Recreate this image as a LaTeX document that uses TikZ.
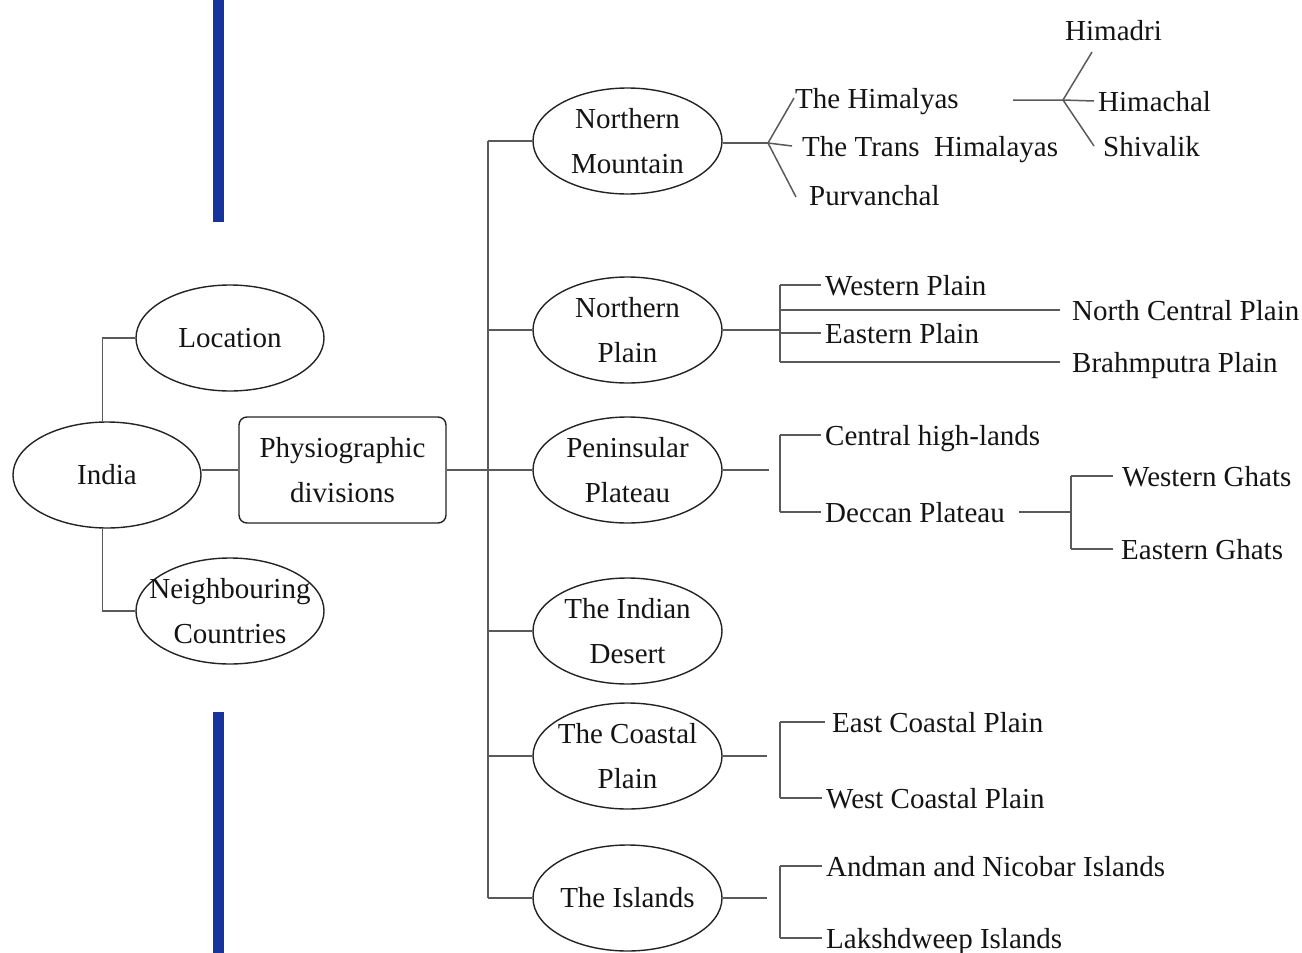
\documentclass[tikz,border=0pt]{standalone}
\usepackage{fontspec}
\setmainfont{Liberation Serif}
\usetikzlibrary{shapes.geometric}
\definecolor{bluebar}{RGB}{22,52,158}
\definecolor{linec}{RGB}{90,90,90}
\definecolor{edgec}{RGB}{35,35,35}
\definecolor{txt}{RGB}{20,20,20}
\begin{document}
\begin{tikzpicture}[x=1pt,y=-1pt,
  conn/.style={draw=linec, line width=1.5pt},
  ell/.style={ellipse, draw=edgec, line width=1.4pt, minimum width=189pt, minimum height=106pt, inner sep=0pt},
  lbl/.style={font=\fontsize{29}{45}\selectfont, align=center, text=txt, inner sep=0pt},
  item/.style={font=\fontsize{29}{35}\selectfont, text=txt, anchor=west, inner xsep=4pt, inner ysep=2pt, text height=20pt, text depth=0pt},
]
\useasboundingbox (0,0) rectangle (1302,953);
\fill[bluebar] (213,0) rectangle (224,222);
\fill[bluebar] (213,712) rectangle (224,953);

% left part
\node[ell,minimum width=188pt,label={[lbl]center:India}] (india) at (107,475) {};
\node[ell,minimum width=188pt,label={[lbl]center:Location}] (loc) at (230,338) {};
\node[ell,minimum width=188pt,label={[lbl]center:{Neighbouring\\Countries}}] (nbr) at (230,611) {};
\node[draw=edgec, rounded corners=8pt, line width=1.4pt, minimum width=207pt, minimum height=106pt, inner sep=0pt,
      label={[lbl]center:{Physiographic\\divisions}}] (phy) at (342.5,470) {};

\draw[conn] (india.95) |- (loc.west);
\draw[conn] (india.265) |- (nbr.west);
\draw[conn] (india.east |- phy.west) -- (phy.west);

% middle column
\coordinate (trk) at (488,470);
\node[ell,label={[lbl]center:{Northern\\Mountain}}] (nm) at (627.5,141) {};
\node[ell,label={[lbl]center:{Northern\\Plain}}] (np) at (627.5,330) {};
\node[ell,label={[lbl]center:{Peninsular\\Plateau}}] (pp) at (627.5,470) {};
\node[ell,label={[lbl]center:{The Indian\\Desert}}] (ind) at (627.5,631) {};
\node[ell,label={[lbl]center:{The Coastal\\Plain}}] (cp) at (627.5,756) {};
\node[ell,label={[lbl]center:The Islands}] (isl) at (627.5,898) {};

\draw[conn] (phy.east) -- (trk);
\draw[conn] (nm.west -| trk) -- (isl.west -| trk);
\foreach \n in {nm,np,pp,ind,cp,isl} \draw[conn] (\n.west) -- (\n.west -| trk);

% Northern Mountain
\coordinate (f1) at (768,143);
\node[item] (him) at (791,98) {The Himalyas};
\node[item] (trans) at (798,146) {The Trans\ \ Himalayas};
\node[item] (purv) at (805,195) {Purvanchal};
\draw[conn] (nm.east |- f1) -- (f1);
\draw[conn] (f1) -- ([xshift=3pt]him.west);
\draw[conn] (f1) -- ([xshift=-6pt]trans.west);
\draw[conn] (f1) -- ([xshift=-9pt,yshift=-2pt]purv.west);

\coordinate (s2) at (1013,100);
\coordinate (f2) at (1063,100);
\coordinate (u2) at (1092,52);
\node[item] (hmd) at (1061,30) {Himadri};
\node[item] (hmc) at (1094,101) {Himachal};
\node[item] (shv) at (1099,146) {Shivalik};
\draw[conn] (s2) -- (f2) -- (hmc.west);
\draw[conn] (f2) -- (u2);
\draw[conn] (f2) -- ([xshift=-5pt]shv.west);

% Northern Plain
\coordinate (b1t) at (780,285);
\coordinate (b1b) at (780,362);
\node[item] (wp) at (821,285) {Western Plain};
\node[item] (ep) at (821,333) {Eastern Plain};
\node[item] (ncp) at (1068,310) {North Central Plain};
\node[item] (bp) at (1068,362) {Brahmputra Plain};
\draw[conn] (np.east) -- (np.east -| b1t);
\draw[conn] (b1t) -- (b1b);
\draw[conn] (b1t) -- (wp.west);
\draw[conn] (b1t |- ep.west) -- (ep.west);
\draw[conn] (b1t |- ncp.west) -- ([xshift=-8pt]ncp.west);
\draw[conn] (b1b) -- ([xshift=-8pt]bp.west);

% Peninsular Plateau
\coordinate (pc) at (769,470);
\coordinate (b2t) at (780,435);
\coordinate (b2b) at (780,512);
\node[item] (chl) at (821,435) {Central high-lands};
\node[item] (dp) at (821,512) {Deccan Plateau};
\draw[conn] (pp.east) -- (pc);
\draw[conn] (b2t) -- (b2b);
\draw[conn] (b2t) -- (chl.west);
\draw[conn] (b2b) -- (dp.west);

\coordinate (s3) at (1019,512);
\coordinate (b3t) at (1071,476);
\coordinate (b3b) at (1071,549);
\node[item] (wg) at (1118,476) {Western Ghats};
\node[item] (eg) at (1117,549) {Eastern Ghats};
\draw[conn] (s3) -- (s3 -| b3t);
\draw[conn] (b3t) -- (b3b);
\draw[conn] (b3t) -- ([xshift=-5pt]wg.west);
\draw[conn] (b3b) -- ([xshift=-4pt]eg.west);

% Coastal Plain
\coordinate (cc) at (767,756);
\coordinate (b4t) at (780,722);
\coordinate (b4b) at (780,798);
\node[item] (ecp) at (828,722) {East Coastal Plain};
\node[item] (wcp) at (822,798) {West Coastal Plain};
\draw[conn] (cp.east) -- (cc);
\draw[conn] (b4t) -- (b4b);
\draw[conn] (b4t) -- ([xshift=-3pt]ecp.west);
\draw[conn] (b4b) -- (wcp.west);

% Islands
\coordinate (ic) at (767,898);
\coordinate (b5t) at (780,866);
\coordinate (b5b) at (780,938);
\node[item] (anb) at (822,866) {Andman and Nicobar Islands};
\node[item] (lak) at (822,938) {Lakshdweep Islands};
\draw[conn] (isl.east) -- (ic);
\draw[conn] (b5t) -- (b5b);
\draw[conn] (b5t) -- (anb.west);
\draw[conn] (b5b) -- (lak.west);
\end{tikzpicture}
\end{document}
